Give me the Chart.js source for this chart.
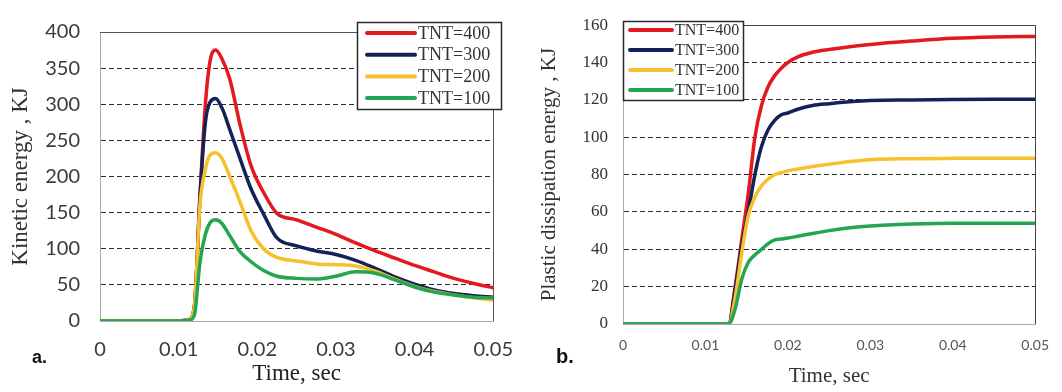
<!DOCTYPE html>
<html>
<head>
<meta charset="utf-8">
<script src="https://cdn.jsdelivr.net/npm/chart.js@4.4.1/dist/chart.umd.min.js"></script>
<style>
  html, body { margin: 0; padding: 0; background: #fff; }
  body { width: 1062px; height: 392px; position: relative; overflow: hidden; }
  .panel { position: absolute; top: 0; height: 392px; }
  #panelA { left: 0; width: 530px; }
  #panelB { left: 530px; width: 532px; }
  .tag { position: absolute; font-family: "Liberation Sans", Arial, sans-serif; font-weight: bold; color: #111; }
</style>
</head>
<body>
<div class="panel" id="panelA"><canvas id="keChart" width="530" height="392"></canvas></div>
<div class="panel" id="panelB"><canvas id="pdChart" width="532" height="392"></canvas></div>
<div class="tag" style="left:32px; top:348px; font-size:18px; line-height:18px;">a.</div>
<div class="tag" style="left:556px; top:346px; font-size:20px; line-height:20px;">b.</div>

<script>
// series names and colours
const seriesLabels = ['TNT=400', 'TNT=300', 'TNT=200', 'TNT=100'];
const seriesColors = ['#e3191f', '#13235a', '#f6c12c', '#25a552'];

// x ticks shared by both panels (sec)
const timeTicks = [0, 0.01, 0.02, 0.03, 0.04, 0.05];

// (a) kinetic energy, KJ
const keTime = [0, 0.005, 0.0100, 0.0113, 0.0120, 0.0127, 0.0134, 0.0140, 0.0147, 0.0155, 0.0165, 0.0178, 0.0192, 0.0208, 0.0225, 0.0250, 0.0275, 0.0300, 0.0325, 0.0350, 0.0375, 0.0400, 0.0425, 0.0450, 0.0475, 0.0500];
const ke400 = [0, 0, 0, 2, 20, 170, 300, 360, 375, 363, 335, 272, 215, 178, 149, 140, 130, 120, 108, 97, 87, 77, 68, 59, 52, 46];
const ke300 = [0, 0, 0, 2, 20, 170, 275, 303, 308, 295, 265, 225, 183, 148, 115, 104, 97, 92, 84, 73, 61, 51, 43, 38, 35, 33];
const ke200 = [0, 0, 0, 2, 20, 160, 210, 230, 233, 225, 200, 165, 125, 100, 88, 83, 79, 78, 76, 69, 58, 48, 41, 36, 32, 29];
const ke100 = [0, 0, 0, 1, 8, 80, 120, 136, 140, 135, 118, 96, 82, 70, 62, 59, 58, 62, 68, 66, 57, 47, 40, 36, 33, 32];

// (b) plastic dissipation energy, KJ
const pdTime = [0, 0.005, 0.010, 0.0128, 0.0136, 0.0144, 0.0152, 0.0160, 0.0168, 0.0176, 0.0184, 0.0192, 0.0200, 0.0212, 0.0230, 0.0250, 0.0275, 0.0300, 0.0350, 0.0400, 0.0450, 0.0500];
const pd400 = [0, 0, 0, 0, 20, 45, 70, 100, 117, 127, 133, 137, 140, 143, 145.5, 147, 148.5, 149.7, 151.5, 153, 153.7, 154];
const pd300 = [0, 0, 0, 0, 18, 42, 60, 80, 95, 104, 109, 112, 113, 115, 117, 118, 119, 119.7, 120, 120.2, 120.3, 120.3];
const pd200 = [0, 0, 0, 0, 14, 38, 58, 68, 74, 77.5, 80, 81, 82, 83, 84.3, 85.5, 87, 88, 88.5, 88.7, 88.8, 88.8];
const pd100 = [0, 0, 0, 0, 8, 24, 33, 37, 40, 43, 45, 45.5, 46, 47, 48.5, 50, 51.5, 52.5, 53.5, 54, 54, 54];

function toPoints(times, values) {
    return times.map((t, i) => ({ x: t, y: values[i] }));
}

function makeDatasets(times, lists) {
    return lists.map((values, i) => ({
        label: seriesLabels[i],
        data: toPoints(times, values),
        borderColor: seriesColors[i],
        backgroundColor: seriesColors[i],
        borderWidth: 3.5,
        pointRadius: 0,
        fill: false,
        cubicInterpolationMode: 'monotone',
        order: 3 - i   // TNT=100 ends up on top, as in the figure
    }));
}

// top and right frame lines of the plot box
const frameLines = {
    id: 'frameLines',
    beforeDatasetsDraw(chart, args, opts) {
        const { ctx, chartArea: a } = chart;
        ctx.save();
        ctx.lineWidth = 1;
        ctx.strokeStyle = opts.color;
        ctx.beginPath();
        ctx.moveTo(a.left, Math.round(a.top) + 0.5);
        ctx.lineTo(a.right, Math.round(a.top) + 0.5);
        ctx.moveTo(Math.round(a.right) + 0.5, a.top);
        ctx.lineTo(Math.round(a.right) + 0.5, a.bottom);
        ctx.stroke();
        ctx.restore();
    }
};

// boxed legend inside the plot, drawn from the dataset labels/colours
const boxLegend = {
    id: 'boxLegend',
    afterDatasetsDraw(chart, args, o) {
        const ctx = chart.ctx;
        ctx.save();
        ctx.fillStyle = '#fff';
        ctx.fillRect(o.x, o.y, o.w, o.h);
        ctx.strokeStyle = '#2a2a2a';
        ctx.lineWidth = 1.5;
        ctx.strokeRect(o.x + 0.5, o.y + 0.5, o.w, o.h);
        chart.data.datasets.forEach((ds, i) => {
            const y = o.y + o.first + i * o.gap;
            ctx.strokeStyle = ds.borderColor;
            ctx.lineWidth = 4;
            ctx.lineCap = 'round';
            ctx.beginPath();
            ctx.moveTo(o.x + o.lineStart, y);
            ctx.lineTo(o.x + o.lineStart + o.lineLen, y);
            ctx.stroke();
            ctx.fillStyle = '#333';
            ctx.font = o.font;
            ctx.textBaseline = 'middle';
            ctx.fillText(ds.label, o.x + o.textStart, y + 1);
        });
        ctx.restore();
    }
};

const serif = "'Liberation Serif', 'Times New Roman', serif";

function gridColor(max) {
    return ctx => (ctx.tick.value === 0 || ctx.tick.value === max) ? 'rgba(0,0,0,0)' : '#2b2b2b';
}

// (a) Kinetic energy
new Chart(document.getElementById('keChart'), {
    type: 'line',
    data: { datasets: makeDatasets(keTime, [ke400, ke300, ke200, ke100]) },
    plugins: [frameLines, boxLegend],
    options: {
        responsive: false,
        animation: false,
        layout: { padding: { top: 16, right: 28, bottom: 0, left: 0 } },
        plugins: {
            legend: { display: false },
            tooltip: { enabled: false },
            frameLines: { color: '#555' },
            boxLegend: { x: 357, y: 22, w: 144, h: 87, first: 11, gap: 21.7, lineStart: 10, lineLen: 48, textStart: 61, font: "18px " + serif }
        },
        scales: {
            x: {
                type: 'linear', min: 0, max: 0.05,
                afterBuildTicks: s => { s.ticks = timeTicks.map(v => ({ value: v })); },
                afterFit: s => { s.height = 71; },
                grid: { display: false, drawTicks: false },
                border: { color: '#aaa', width: 1 },
                ticks: {
                    padding: 17, color: '#3a3a3a', maxRotation: 0,
                    font: { family: 'Lato', size: 20 },
                    callback: v => v === 0 ? '0' : v.toFixed(2)
                },
                title: { display: true, text: 'Time, sec', color: '#222', padding: { top: 0, bottom: 4 }, font: { family: serif, size: 23 } }
            },
            y: {
                min: 0, max: 400,
                ticks: { stepSize: 50, padding: 20, color: '#3a3a3a', font: { family: 'Lato', size: 20 } },
                afterFit: s => { s.width = 100; },
                grid: { color: gridColor(400), lineWidth: 1, drawTicks: false },
                border: { color: '#aaa', width: 1, dash: [5, 3] },
                title: { display: true, text: 'Kinetic energy , KJ', color: '#333', padding: { top: 7, bottom: 0 }, font: { family: serif, size: 23 } }
            }
        }
    }
});

// (b) Plastic dissipation energy
new Chart(document.getElementById('pdChart'), {
    type: 'line',
    data: { datasets: makeDatasets(pdTime, [pd400, pd300, pd200, pd100]) },
    plugins: [frameLines, boxLegend],
    options: {
        responsive: false,
        animation: false,
        layout: { padding: { top: 20, right: 19, bottom: 0, left: 0 } },
        plugins: {
            legend: { display: false },
            tooltip: { enabled: false },
            frameLines: { color: '#444' },
            boxLegend: { x: 93, y: 21, w: 120, h: 79, first: 9, gap: 20, lineStart: 7, lineLen: 42, textStart: 52, font: "16px " + serif }
        },
        scales: {
            x: {
                type: 'linear', min: 0, max: 0.05,
                afterBuildTicks: s => { s.ticks = timeTicks.map(v => ({ value: v })); },
                afterFit: s => { s.height = 68; },
                grid: { display: false, drawTicks: false },
                border: { color: '#aaa', width: 1 },
                ticks: {
                    padding: 13, color: '#555', maxRotation: 0,
                    font: { family: 'Lato', size: 14 },
                    callback: v => v === 0 ? '0' : v.toFixed(2)
                },
                title: { display: true, text: 'Time, sec', color: '#333', padding: { top: 0, bottom: 3 }, font: { family: serif, size: 21 } }
            },
            y: {
                min: 0, max: 160,
                ticks: { stepSize: 20, padding: 15, color: '#333', font: { family: serif, size: 17 } },
                afterFit: s => { s.width = 93; },
                grid: { color: gridColor(160), lineWidth: 1, drawTicks: false },
                border: { color: '#aaa', width: 1, dash: [5, 3] },
                title: { display: true, text: 'Plastic dissipation energy , KJ', color: '#333', padding: { top: 7, bottom: 0 }, font: { family: serif, size: 21 } }
            }
        }
    }
});
</script>
</body>
</html>
